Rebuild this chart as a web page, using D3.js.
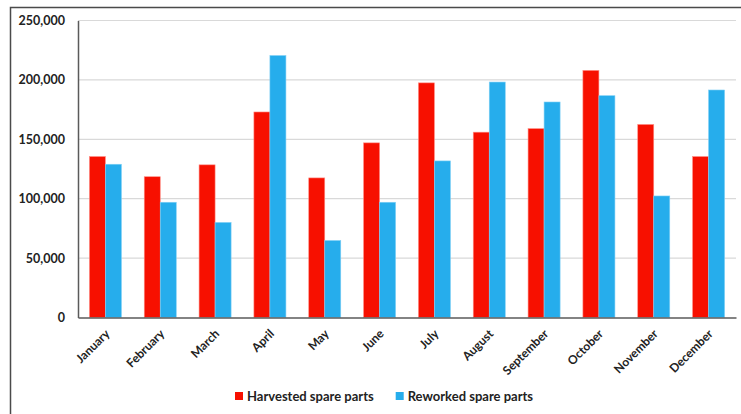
<!DOCTYPE html>
<html>
<head>
<meta charset="utf-8">
<script src="https://cdn.jsdelivr.net/npm/d3@7"></script>
<style>
  html, body { margin: 0; padding: 0; background: #fff; }
  svg { display: block; }
  text { font-family: Lato, "Open Sans", "DejaVu Sans", sans-serif; font-weight: 700; fill: #222; }
</style>
</head>
<body>
<svg id="chart" width="741" height="414"></svg>
<script>
// Monthly spare part volumes
const months = ["January", "February", "March", "April", "May", "June",
                "July", "August", "September", "October", "November", "December"];
const harvested = [135500, 118500, 128500, 173000, 117500, 147000,
                   197500, 156000, 159000, 208000, 162500, 135500];
const reworked  = [129000, 97000, 80000, 220500, 64800, 97000,
                   131800, 198200, 181400, 186700, 102300, 191500];
const seriesNames = ["Harvested spare parts", "Reworked spare parts"];
const seriesColors = ["#f71000", "#26adec"];
const seriesStrokes = ["#ff8f86", "#7fcff5"];
const yTicks = [0, 50000, 100000, 150000, 200000, 250000];

const svg = d3.select("#chart");
const plot = { left: 78, right: 736, top: 20.5, bottom: 317.5 };

// Outer frame (runs off the right and bottom edges)
svg.append("rect")
  .attr("x", 10.5).attr("y", 7.5)
  .attr("width", 760).attr("height", 430)
  .attr("fill", "none").attr("stroke", "#4a4a4a").attr("stroke-width", 1.5);

const x = d3.scaleBand()
  .domain(months)
  .range([plot.left, plot.right])
  .paddingInner(0.416)
  .paddingOuter(0.208);

const xs = d3.scaleBand()
  .domain(seriesNames)
  .range([0, x.bandwidth()]);

const y = d3.scaleLinear()
  .domain([0, 250000])
  .range([plot.bottom, plot.top]);

// Gridlines
svg.append("g")
  .selectAll("line")
  .data(yTicks.filter(d => d > 0))
  .join("line")
  .attr("x1", plot.left).attr("x2", plot.right)
  .attr("y1", d => y(d)).attr("y2", d => y(d))
  .attr("stroke", "#d9d9d9").attr("stroke-width", 1.2);

// Y axis labels
const yAxis = d3.axisLeft(y)
  .tickValues(yTicks)
  .tickFormat(d3.format(","))
  .tickSize(0)
  .tickPadding(13);
const gy = svg.append("g")
  .attr("transform", `translate(${plot.left},0)`)
  .call(yAxis);
gy.select(".domain").attr("stroke", "#5a5a5a").attr("stroke-width", 1.5);
gy.selectAll("text")
  .attr("font-size", 12.5)
  .attr("font-family", "Lato, sans-serif")
  .attr("font-weight", 700)
  .attr("fill", "#222");

// Bars
const rows = months.map((m, i) => ({ month: m, values: [harvested[i], reworked[i]] }));
const groups = svg.append("g")
  .selectAll("g")
  .data(rows)
  .join("g")
  .attr("transform", d => `translate(${x(d.month)},0)`);
groups.selectAll("rect")
  .data(d => d.values.map((v, k) => ({ name: seriesNames[k], value: v, k })))
  .join("rect")
  .attr("x", d => xs(d.name))
  .attr("width", xs.bandwidth())
  .attr("y", d => y(d.value))
  .attr("height", d => y(0) - y(d.value))
  .attr("fill", d => seriesColors[d.k])
  .attr("stroke", d => seriesStrokes[d.k])
  .attr("stroke-width", 0.6);

// X axis
const xAxis = d3.axisBottom(x).tickSize(0).tickPadding(0);
const gx = svg.append("g")
  .attr("transform", `translate(0,${plot.bottom})`)
  .call(xAxis);
gx.select(".domain").attr("stroke", "#5a5a5a").attr("stroke-width", 1.5);
gx.selectAll("text")
  .attr("font-size", 12)
  .attr("font-family", "Lato, sans-serif")
  .attr("font-weight", 700)
  .attr("fill", "#222")
  .attr("text-anchor", "end")
  .attr("dy", 0)
  .attr("transform", "translate(5,17) rotate(-45)");

// Legend
const legend = svg.append("g").attr("transform", "translate(235,392)");
const legendX = [0, 160.7];
seriesNames.forEach((name, k) => {
  const g = legend.append("g").attr("transform", `translate(${legendX[k]},0)`);
  g.append("rect").attr("width", 8).attr("height", 8).attr("fill", seriesColors[k]);
  g.append("text")
    .attr("x", 12).attr("y", 8.5)
    .attr("font-size", 13)
    .text(name);
});
</script>
</body>
</html>
